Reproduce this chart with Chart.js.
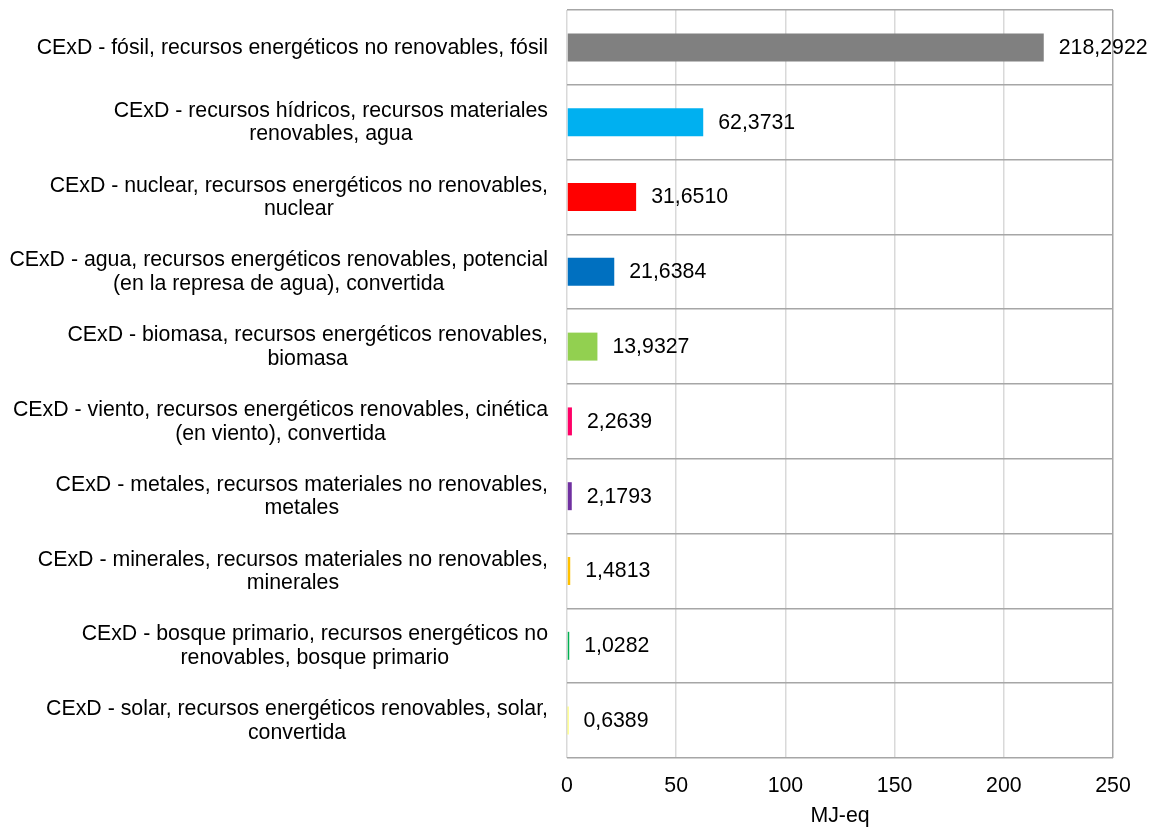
<!DOCTYPE html>
<html>
<head>
<meta charset="utf-8">
<script src="https://cdn.jsdelivr.net/npm/chart.js@4"></script>
<style>
  html, body { margin: 0; padding: 0; background: #ffffff; }
  #wrap { width: 1158px; height: 829px; position: relative; }
</style>
</head>
<body>
<div id="wrap"><canvas id="c" width="1158" height="829"></canvas></div>
<script>
// ---- Data ----
const categories = [
  ["CExD - fósil, recursos energéticos no renovables, fósil"],
  ["CExD - recursos hídricos, recursos materiales", "renovables, agua"],
  ["CExD - nuclear, recursos energéticos no renovables,", "nuclear"],
  ["CExD - agua, recursos energéticos renovables, potencial", "(en la represa de agua), convertida"],
  ["CExD - biomasa, recursos energéticos renovables,", "biomasa"],
  ["CExD - viento, recursos energéticos renovables, cinética", "(en viento), convertida"],
  ["CExD - metales, recursos materiales no renovables,", "metales"],
  ["CExD - minerales, recursos materiales no renovables,", "minerales"],
  ["CExD - bosque primario, recursos energéticos no", "renovables, bosque primario"],
  ["CExD - solar, recursos energéticos renovables, solar,", "convertida"]
];
const values = [218.2922, 62.3731, 31.6510, 21.6384, 13.9327, 2.2639, 2.1793, 1.4813, 1.0282, 0.6389];
const barColors = ["#808080", "#00B0F0", "#FF0000", "#0070C0", "#92D050", "#FF0066", "#7030A0", "#FFC000", "#00B050", "#FFFF00"];
const xTicks = [0, 50, 100, 150, 200, 250];
const axisTitle = "MJ-eq";

const FONT = "'Liberation Sans', Arial, sans-serif";
const FSIZE = 21.3;

const labelPlugin = {
  id: 'customLabels',
  afterDatasetsDraw(chart) {
    const ctx = chart.ctx;
    ctx.save();
    ctx.font = FSIZE + "px " + FONT;
    ctx.fillStyle = "#000000";
    ctx.textBaseline = "middle";
    ctx.textAlign = "left";
    const meta = chart.getDatasetMeta(0);
    meta.data.forEach((bar, i) => {
      const txt = values[i].toFixed(4).replace('.', ',');
      ctx.fillText(txt, bar.x + 15, bar.y + 0.5);
    });
    // y category labels: block right-aligned, lines centered within block
    const ys = chart.scales.y;
    const rightEdge = ys.right - 19;
    const lh = 23.5;
    ctx.textAlign = "center";
    categories.forEach((lines, i) => {
      const cy = ys.getPixelForTick(i) + 0.5;
      let maxW = 0;
      lines.forEach(l => { maxW = Math.max(maxW, ctx.measureText(l).width); });
      const cx = rightEdge - maxW / 2;
      const y0 = cy - (lines.length - 1) * lh / 2;
      lines.forEach((l, k) => ctx.fillText(l, cx, y0 + k * lh));
    });
    ctx.restore();
  }
};

new Chart(document.getElementById('c'), {
  type: 'bar',
  data: {
    labels: categories,
    datasets: [{
      data: values,
      backgroundColor: barColors,
      borderWidth: 0,
      barPercentage: 0.374,
      categoryPercentage: 1.0
    }]
  },
  options: {
    indexAxis: 'y',
    responsive: false,
    animation: false,
    events: [],
    layout: { padding: { left: 0, right: 45, top: 10, bottom: 0 } },
    plugins: { legend: { display: false }, tooltip: { enabled: false } },
    scales: {
      x: {
        type: 'linear',
        min: 0, max: 250,
        afterBuildTicks: (s) => { s.ticks = xTicks.map(v => ({ value: v })); },
        afterFit: (s) => { s.height = 71; },
        border: { display: false },
        grid: {
          drawTicks: false,
          lineWidth: 1.5,
          color: (c) => (c.tick && c.tick.value === 250) ? '#a6a6a6' : '#d9d9d9'
        },
        ticks: {
          padding: 15,
          color: '#000000',
          font: { family: FONT, size: FSIZE },
          callback: (v) => String(v)
        },
        title: {
          display: true,
          text: axisTitle,
          color: '#000000',
          font: { family: FONT, size: FSIZE },
          padding: { top: 0, bottom: 0 }
        }
      },
      y: {
        afterFit: (s) => { s.width = 567; },
        border: { display: false },
        grid: {
          drawTicks: false,
          offset: true,
          lineWidth: 1.5,
          color: '#a6a6a6'
        },
        ticks: { display: false }
      }
    }
  },
  plugins: [labelPlugin]
});
</script>
</body>
</html>
